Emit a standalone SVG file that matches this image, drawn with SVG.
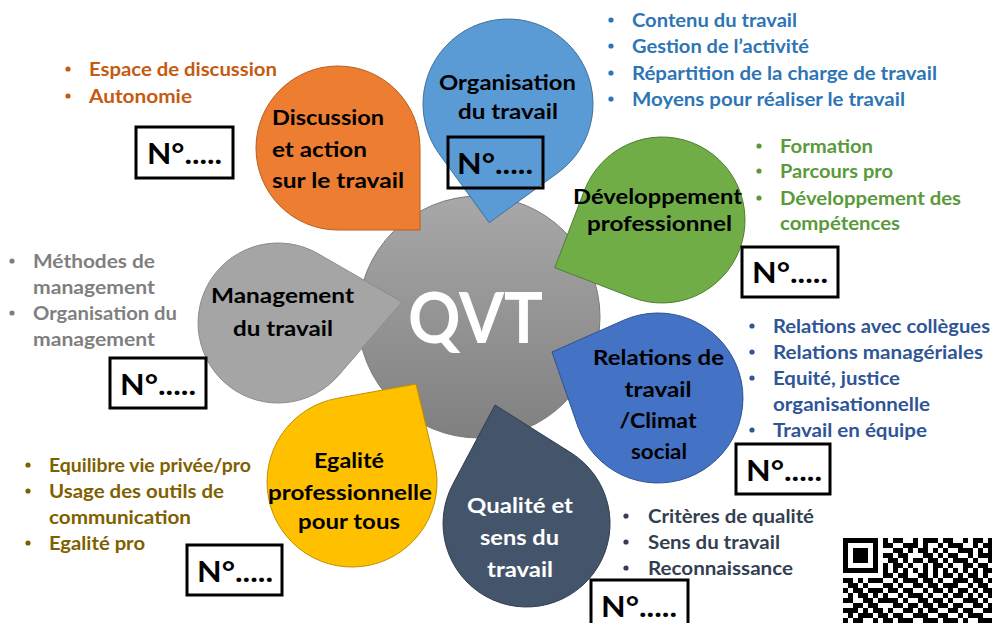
<svg xmlns="http://www.w3.org/2000/svg" width="992" height="623" viewBox="0 0 992 623">
<style>
text{font-family:Lato,"Open Sans","Liberation Sans",sans-serif;font-weight:bold}
.t{font-size:20px;fill:#000;text-anchor:middle}
.tl{font-size:20px;fill:#000}
.tw{font-size:20px;fill:#fff;text-anchor:middle}
.b{font-size:19px}
.n{font-size:29px;fill:#000}
.box{fill:none;stroke:#000;stroke-width:3}
.qr line{stroke:#000;stroke-width:5.2}
</style>
<defs>
<linearGradient id="g" x1="0" y1="0" x2="0" y2="1">
<stop offset="0" stop-color="#a8a8a8"/>
<stop offset="1" stop-color="#808080"/>
</linearGradient>
</defs>
<rect width="992" height="623" fill="#fff"/>

<g id="center">
<circle cx="479" cy="317" r="121" fill="url(#g)" stroke="#7a7a7a" stroke-width="1"/>
<text x="475.5" y="343" style="font-size:70px;fill:#fff;text-anchor:middle" textLength="135" lengthAdjust="spacingAndGlyphs">QVT</text>
</g>

<g id="connectors"></g>

<g id="discussion">
<path d="M420,148 L420,230 L338,230 A82,82 0 1 1 420,148 Z" fill="#ed7d31" stroke="#b85f22" stroke-width="1"/>
<text class="tl" x="272" y="125" textLength="112" lengthAdjust="spacingAndGlyphs">Discussion</text>
<text class="tl" x="272" y="157" textLength="95" lengthAdjust="spacingAndGlyphs">et action</text>
<text class="tl" x="272" y="188" textLength="132" lengthAdjust="spacingAndGlyphs">sur le travail</text>
<g fill="#c55a11">
<circle cx="68" cy="69" r="2.6"/><circle cx="68" cy="96" r="2.6"/>
<text class="b" x="89" y="76" textLength="188" lengthAdjust="spacingAndGlyphs">Espace de discussion</text>
<text class="b" x="89" y="103" textLength="103" lengthAdjust="spacingAndGlyphs">Autonomie</text>
</g>
<rect class="box" x="136" y="127" width="97" height="51"/>
<text class="n" x="147" y="164" textLength="75" lengthAdjust="spacingAndGlyphs">N°.....</text>
</g>

<g id="organisation">
<path d="M557.96,172.77 L489.2,222.7 L439.23,153.96 A85,85 0 1 1 557.96,172.77 Z" fill="#5b9bd5" stroke="#41719c" stroke-width="1"/>
<text class="t" x="507.5" y="90" textLength="137" lengthAdjust="spacingAndGlyphs">Organisation</text>
<text class="t" x="508" y="119" textLength="100" lengthAdjust="spacingAndGlyphs">du travail</text>
<rect class="box" x="448" y="137" width="95" height="51"/>
<text class="n" x="457" y="174" textLength="76" lengthAdjust="spacingAndGlyphs">N°.....</text>
<g fill="#2e75b6">
<circle cx="611" cy="20" r="2.6"/><circle cx="611" cy="46" r="2.6"/><circle cx="611" cy="73" r="2.6"/><circle cx="611" cy="99" r="2.6"/>
<text class="b" x="632" y="27" textLength="165" lengthAdjust="spacingAndGlyphs">Contenu du travail</text>
<text class="b" x="632" y="53" textLength="177" lengthAdjust="spacingAndGlyphs">Gestion de l’activité</text>
<text class="b" x="632" y="80" textLength="305" lengthAdjust="spacingAndGlyphs">Répartition de la charge de travail</text>
<text class="b" x="632" y="106" textLength="273" lengthAdjust="spacingAndGlyphs">Moyens pour réaliser le travail</text>
</g>
</g>

<g id="developpement">
<path d="M632.3,297.5 L554.8,267.7 L584.5,190.3 A83,83 0 1 1 632.3,297.5 Z" fill="#70ad47" stroke="#507e32" stroke-width="1"/>
<text class="t" x="657.5" y="204" textLength="169" lengthAdjust="spacingAndGlyphs">Développement</text>
<text class="t" x="659.5" y="231" textLength="145" lengthAdjust="spacingAndGlyphs">professionnel</text>
<g fill="#5a9a3a">
<circle cx="759" cy="146" r="2.6"/><circle cx="759" cy="171" r="2.6"/><circle cx="759" cy="198" r="2.6"/>
<text class="b" x="780" y="153" textLength="93" lengthAdjust="spacingAndGlyphs">Formation</text>
<text class="b" x="780" y="178" textLength="113" lengthAdjust="spacingAndGlyphs">Parcours pro</text>
<text class="b" x="780" y="205" textLength="181" lengthAdjust="spacingAndGlyphs">Développement des</text>
<text class="b" x="780" y="230" textLength="120" lengthAdjust="spacingAndGlyphs">compétences</text>
</g>
<rect class="box" x="742" y="247" width="96" height="50"/>
<text class="n" x="752" y="283" textLength="76" lengthAdjust="spacingAndGlyphs">N°.....</text>
</g>

<g id="relations">
<path d="M577.7,426 L552,352 L623.7,320.2 A85,85 0 1 1 577.7,426 Z" fill="#4472c4" stroke="#2f528f" stroke-width="1"/>
<text class="t" x="658.5" y="365" textLength="131" lengthAdjust="spacingAndGlyphs">Relations de</text>
<text class="t" x="658" y="397" textLength="67" lengthAdjust="spacingAndGlyphs">travail</text>
<text class="t" x="658" y="428" textLength="77" lengthAdjust="spacingAndGlyphs">/Climat</text>
<text class="t" x="659" y="459" textLength="56" lengthAdjust="spacingAndGlyphs">social</text>
<g fill="#2f5597">
<circle cx="752" cy="326" r="2.6"/><circle cx="752" cy="352" r="2.6"/><circle cx="752" cy="378" r="2.6"/><circle cx="752" cy="430" r="2.6"/>
<text class="b" x="773" y="333" textLength="217" lengthAdjust="spacingAndGlyphs">Relations avec collègues</text>
<text class="b" x="773" y="359" textLength="210" lengthAdjust="spacingAndGlyphs">Relations managériales</text>
<text class="b" x="773" y="385" textLength="127" lengthAdjust="spacingAndGlyphs">Equité, justice</text>
<text class="b" x="773" y="411" textLength="157" lengthAdjust="spacingAndGlyphs">organisationnelle</text>
<text class="b" x="773" y="437" textLength="154" lengthAdjust="spacingAndGlyphs">Travail en équipe</text>
</g>
<rect class="box" x="736" y="444" width="94" height="50"/>
<text class="n" x="746" y="481" textLength="76" lengthAdjust="spacingAndGlyphs">N°.....</text>
</g>

<g id="qualite">
<path d="M452.8,484.3 L495,405 L571,452.8 A83.5,83.5 0 1 1 452.8,484.3 Z" fill="#44546a" stroke="#333f50" stroke-width="1"/>
<text class="tw" x="520" y="513" textLength="106" lengthAdjust="spacingAndGlyphs">Qualité et</text>
<text class="tw" x="519.5" y="545" textLength="79" lengthAdjust="spacingAndGlyphs">sens du</text>
<text class="tw" x="520" y="577" textLength="66" lengthAdjust="spacingAndGlyphs">travail</text>
<g fill="#333f50">
<circle cx="626" cy="516" r="2.6"/><circle cx="626" cy="542" r="2.6"/><circle cx="626" cy="568" r="2.6"/>
<text class="b" x="648" y="523" textLength="166" lengthAdjust="spacingAndGlyphs">Critères de qualité</text>
<text class="b" x="648" y="549" textLength="132" lengthAdjust="spacingAndGlyphs">Sens du travail</text>
<text class="b" x="648" y="575" textLength="145" lengthAdjust="spacingAndGlyphs">Reconnaissance</text>
</g>
<rect class="box" x="591" y="580" width="97" height="50"/>
<text class="n" x="601" y="617" textLength="76" lengthAdjust="spacingAndGlyphs">N°.....</text>
</g>

<g id="egalite">
<path d="M336.8,398.4 L416,384 L434.7,462.3 A85,85 0 1 1 336.8,398.4 Z" fill="#ffc000" stroke="#bf9000" stroke-width="1"/>
<text class="t" x="349" y="468" textLength="70" lengthAdjust="spacingAndGlyphs">Egalité</text>
<text class="t" x="350" y="500" textLength="164" lengthAdjust="spacingAndGlyphs">professionnelle</text>
<text class="t" x="349" y="529" textLength="102" lengthAdjust="spacingAndGlyphs">pour tous</text>
<g fill="#7f6000">
<circle cx="28" cy="465" r="2.6"/><circle cx="28" cy="491" r="2.6"/><circle cx="28" cy="543" r="2.6"/>
<text class="b" x="49" y="472" textLength="202" lengthAdjust="spacingAndGlyphs">Equilibre vie privée/pro</text>
<text class="b" x="49" y="498" textLength="175" lengthAdjust="spacingAndGlyphs">Usage des outils de</text>
<text class="b" x="49" y="524" textLength="142" lengthAdjust="spacingAndGlyphs">communication</text>
<text class="b" x="49" y="550" textLength="96" lengthAdjust="spacingAndGlyphs">Egalité pro</text>
</g>
<rect class="box" x="187" y="545" width="95" height="50"/>
<text class="n" x="197" y="582" textLength="76" lengthAdjust="spacingAndGlyphs">N°.....</text>
</g>

<g id="management">
<path d="M317.9,253.6 L402,302 L338.5,375.4 A80,80 0 1 1 317.9,253.6 Z" fill="#a5a5a5" stroke="#8c8c8c" stroke-width="1"/>
<text class="t" x="282.5" y="303" textLength="143" lengthAdjust="spacingAndGlyphs">Management</text>
<text class="t" x="283" y="336" textLength="100" lengthAdjust="spacingAndGlyphs">du travail</text>
<g fill="#7f7f7f">
<circle cx="12" cy="261" r="2.6"/><circle cx="12" cy="313" r="2.6"/>
<text class="b" x="33" y="268" textLength="122" lengthAdjust="spacingAndGlyphs">Méthodes de</text>
<text class="b" x="33" y="294" textLength="122" lengthAdjust="spacingAndGlyphs">management</text>
<text class="b" x="33" y="320" textLength="144" lengthAdjust="spacingAndGlyphs">Organisation du</text>
<text class="b" x="33" y="346" textLength="122" lengthAdjust="spacingAndGlyphs">management</text>
</g>
<rect class="box" x="110" y="358" width="96" height="50"/>
<text class="n" x="120" y="395" textLength="76" lengthAdjust="spacingAndGlyphs">N°.....</text>
</g>

<g id="qr" class="qr">
<line x1="843" x2="993" y1="540.5" y2="540.5" stroke-dasharray="35 5 5 5 10 10 5 5 15 5 10 10 5 5 10 5 5"/>
<line x1="843" x2="993" y1="545.5" y2="545.5" stroke-dasharray="5 25 5 5 10 10 15 5 5 10 5 5 15 10 5 5 10"/>
<line x1="843" x2="993" y1="550.5" y2="550.5" stroke-dasharray="5 5 15 5 5 15 10 5 5 5 10 5 5 5 5 10 15 5 5 5 5"/>
<line x1="843" x2="993" y1="555.5" y2="555.5" stroke-dasharray="5 5 15 5 5 5 10 5 10 15 10 5 5 5 10 10 5 5 15"/>
<line x1="843" x2="993" y1="560.5" y2="560.5" stroke-dasharray="5 5 15 5 5 10 10 5 5 5 10 5 10 5 5 5 15 5 5 10 5"/>
<line x1="843" x2="993" y1="565.5" y2="565.5" stroke-dasharray="5 25 5 5 5 5 10 5 5 10 5 5 10 5 5 10 10 5 10 5"/>
<line x1="843" x2="993" y1="570.5" y2="570.5" stroke-dasharray="35 5 5 5 5 5 5 5 5 5 5 5 5 5 5 5 5 5 5 5 5 5 10"/>
<line x1="843" x2="993" y1="575.5" y2="575.5" stroke-dasharray="0 40 10 5 10 10 10 5 5 5 10 5 5 5 10 5 5 5"/>
<line x1="843" x2="993" y1="580.5" y2="580.5" stroke-dasharray="10 5 5 5 15 10 5 5 15 5 10 5 5 10 15 5 10 5 5"/>
<line x1="843" x2="993" y1="585.5" y2="585.5" stroke-dasharray="0 5 10 5 5 15 10 5 5 10 10 5 10 5 15 10 5 5 10 5"/>
<line x1="843" x2="993" y1="590.5" y2="590.5" stroke-dasharray="5 5 10 5 15 5 10 5 10 10 5 5 10 5 5 5 10 5 5 5 10"/>
<line x1="843" x2="993" y1="595.5" y2="595.5" stroke-dasharray="0 5 5 5 10 5 5 5 5 10 5 5 15 5 5 10 5 5 10 5 5 5 5 5 5"/>
<line x1="843" x2="993" y1="600.5" y2="600.5" stroke-dasharray="10 10 10 5 20 5 5 10 10 5 10 5 5 10 15 5 5 5"/>
<line x1="843" x2="993" y1="605.5" y2="605.5" stroke-dasharray="0 10 10 5 10 15 10 5 10 5 10 5 10 5 10 10 10 5 5"/>
<line x1="843" x2="993" y1="610.5" y2="610.5" stroke-dasharray="15 5 5 5 10 5 5 10 10 5 5 5 10 10 10 5 10 10 10"/>
<line x1="843" x2="993" y1="615.5" y2="615.5" stroke-dasharray="0 5 5 5 15 5 10 5 10 10 15 10 10 10 5 5 15 10"/>
<line x1="843" x2="993" y1="620.5" y2="620.5" stroke-dasharray="5 5 10 10 5 5 10 5 15 10 15 5 15 5 5 10 15"/>
</g>
</svg>
